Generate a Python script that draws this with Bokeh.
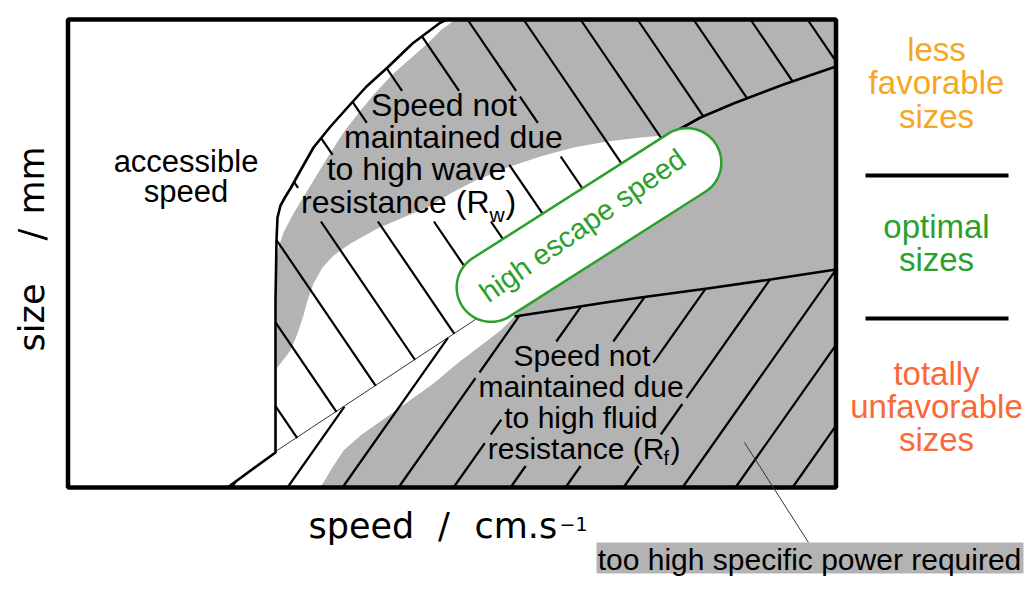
import numpy as np
from bokeh.plotting import figure
from bokeh.models import Range1d, ColumnDataSource
from bokeh.core.properties import value
from bokeh.embed import file_html
from bokeh.resources import INLINE

# ---------------- data (diagram coordinates: x right, y downward) ----------------
frame_left, frame_right, frame_top, frame_bottom = 67.5, 835.5, 19.0, 487.0

# black boundary of the "accessible speed" region (bottom -> top)
acc_x = [227, 275, 275, 275, 276, 277, 280, 285, 290, 300, 313, 330, 347, 366, 387, 412, 440, 447]
acc_y = [487, 452, 380, 300, 240, 217, 205, 196, 188, 170, 147, 126, 107, 86, 67, 43, 22, 19]

# thin boundary between the two hatched families
thin_x = [275, 487]
thin_y = [451, 311]

# upper black curve (wave resistance limit) and lower black curve (fluid resistance limit)
up_x = [660, 673, 700, 733, 783, 835.5]
up_y = [138, 132, 117, 103, 84, 66]
low_x = [514, 540, 573, 605, 640, 707, 770, 835.5]
low_y = [316, 312, 307, 302, 297, 288, 279, 269]

# grey band (wave resistance): outer edge (top -> bottom), inner edge (bottom -> top)
gout_x = [455, 440, 427, 410, 393, 376, 360, 343, 327, 310, 293, 283, 278, 276]
gout_y = [19, 30, 43, 58, 73, 91, 110, 132, 157, 185, 213, 232, 247, 262]
gin_x = [276, 280, 290, 297, 303, 307, 313, 322, 333, 350, 377, 405, 427, 450, 475, 507, 540, 573, 607, 640, 664]
gin_y = [368, 363, 350, 333, 315, 300, 283, 267, 255, 243, 228, 216, 207, 193, 180, 167, 156, 147, 141, 137, 135]
# lower grey region left edge (bottom -> top)
gl_x = [320, 330, 343, 360, 377, 405, 433, 458, 483, 500, 522]
gl_y = [487, 470, 450, 435, 423, 403, 383, 362, 343, 330, 308]

# "high escape speed" capsule
cap_cx, cap_cy, cap_half_len, cap_r, cap_angle = 588.5, 224.5, 116.0, 34.5, 32.5

# hatch families
back_top_x = [12, 69, 126, 183, 240, 296, 353, 410, 467, 523, 580, 637, 693, 750, 807]   # "\" lines, x at top edge
back_slope = 1.47
fwd_bottom_x = [231, 287, 342, 398, 453, 510, 565, 623, 682, 735, 792]                 # "/" lines, x at bottom edge
fwd_slope = -1.42

# texts (positions are baselines)
upper_lines = ["Speed not", "maintained due", "to high wave"]
upper_cx = [443.5, 453, 416]
upper_by = [116, 148, 180]
upper_last = ("resistance (R", "w", ")")
upper_last_x = [489, 489, 505]          # end of "(R", start of subscript, start of ")"
upper_last_by = 213

lower_lines = ["Speed not", "maintained due", "to high fluid"]
lower_cx = [581.5, 580.5, 580.5]
lower_by = [365, 396, 427]
lower_last = ("resistance (R", "f", ")")
lower_last_x = [664, 663, 670]
lower_last_by = 458

acc_lines = ["accessible", "speed"]
acc_cx = [185.5, 185.5]
acc_by = [172, 202]

right_lines = ["less", "favorable", "sizes", "optimal", "sizes", "totally", "unfavorable", "sizes"]
right_by = [60, 93, 127, 237, 270, 384, 417, 450]
right_col = ["#f5a623"] * 3 + ["#2ca02c"] * 2 + ["#fa6838"] * 3
right_cx = 936
sep_y = [175, 318]
sep_x = [865, 1008]

note_text = "too high specific power required"
note_box = (596, 1023, 542, 573)
note_cx, note_by = 809, 569
pointer_x = [744, 808]
pointer_y = [442, 542]

GREY = "#b3b3b3"
GREEN = "#2ca02c"
SANS = "Liberation Sans"
BASE_K = 0.347   # baseline -> anchor offset (fraction of font size)

# ---------------- helpers ----------------
AW = {'a': .556, 'b': .556, 'c': .5, 'd': .556, 'e': .556, 'f': .278, 'g': .556, 'h': .556, 'i': .222,
      'l': .222, 'm': .833, 'n': .556, 'o': .556, 'p': .556, 'q': .556, 'r': .333, 's': .5, 't': .278,
      'u': .556, 'v': .5, 'w': .722, 'y': .5, 'z': .5, ' ': .278, 'S': .667, 'R': .722, '(': .333, ')': .333}


def tw(s, fs):
    return sum(AW.get(c, .55) for c in s) * fs


def clip_line(p0, d, poly):
    ts = []
    n = len(poly)
    for i in range(n):
        a = poly[i]
        b = poly[(i + 1) % n]
        e = (b[0] - a[0], b[1] - a[1])
        den = d[0] * e[1] - d[1] * e[0]
        if abs(den) < 1e-12:
            continue
        w = (a[0] - p0[0], a[1] - p0[1])
        t = (w[0] * e[1] - w[1] * e[0]) / den
        s = (w[0] * d[1] - w[1] * d[0]) / den
        if 0 <= s < 1:
            ts.append(t)
    ts.sort()
    return [(ts[i], ts[i + 1]) for i in range(0, len(ts) - 1, 2)]


def subtract_rect(intervals, p0, d, r):
    x0, x1, y0, y1 = r
    tx = sorted(((x0 - p0[0]) / d[0], (x1 - p0[0]) / d[0]))
    ty = sorted(((y0 - p0[1]) / d[1], (y1 - p0[1]) / d[1]))
    tin, tout = max(tx[0], ty[0]), min(tx[1], ty[1])
    if tin >= tout:
        return intervals
    out = []
    for a, b in intervals:
        if tout <= a or tin >= b:
            out.append((a, b))
            continue
        if tin > a:
            out.append((a, tin))
        if tout < b:
            out.append((tout, b))
    return out


def hatch(points, d, poly, masks):
    xs, ys = [], []
    for p0 in points:
        iv = clip_line(p0, d, poly)
        for r in masks:
            iv = subtract_rect(iv, p0, d, r)
        for a, b in iv:
            if b - a > 0.3:
                xs.append([p0[0] + a * d[0], p0[0] + b * d[0]])
                ys.append([p0[1] + a * d[1], p0[1] + b * d[1]])
    return xs, ys


def capsule(cx, cy, L, r, ang, n=48):
    a = np.radians(ang)
    u = np.array([np.cos(a), -np.sin(a)])
    v = np.array([np.sin(a), np.cos(a)])
    c = np.array([cx, cy])
    pts = []
    for th in np.linspace(-np.pi / 2, np.pi / 2, n):
        pts.append(c + L * u + r * (np.cos(th) * u + np.sin(th) * v))
    for th in np.linspace(np.pi / 2, 3 * np.pi / 2, n):
        pts.append(c - L * u + r * (np.cos(th) * u + np.sin(th) * v))
    pts = np.array(pts)
    return list(pts[:, 0]), list(pts[:, 1])


def mask_box(x0, x1, by, fs):
    return (x0 - 3, x1 + 3, by - 0.80 * fs, by + 0.25 * fs)


# ---------------- figure ----------------
p = figure(width=1027, height=586, x_range=Range1d(0, 1027), y_range=Range1d(586, 0),
           output_backend="svg", toolbar_location=None, x_axis_type=None, y_axis_type=None,
           min_border=0, outline_line_color=None, background_fill_color="white",
           border_fill_color="white")
p.grid.visible = False

# base grey
p.quad(left=[frame_left], right=[frame_right], top=[frame_top], bottom=[frame_bottom],
       fill_color=GREY, line_color=None)

# white: accessible region + white strip
A_x = [frame_left, gout_x[0]] + gout_x + [276, 276, 227, frame_left]
A_y = [frame_top, frame_top] + gout_y + [262, 452, frame_bottom, frame_bottom]
p.patch(A_x, A_y, fill_color="white", line_color=None)

# white: tongue + white band
B_x = [276] + gin_x + [600] + gl_x[::-1] + [227, 275]
B_y = [452] + gin_y + [225] + gl_y[::-1] + [frame_bottom, 452]
p.patch(B_x, B_y, fill_color="white", line_color=None)

# text masks (hatching hidden behind text)
FS_UP, FS_LO, FS_SUB_UP, FS_SUB_LO = 32, 30, 21, 20
masks = []
for t, cx, by in zip(upper_lines, upper_cx, upper_by):
    w = tw(t, FS_UP)
    masks.append(mask_box(cx - w / 2, cx + w / 2, by, FS_UP))
for t, cx, by in zip(lower_lines, lower_cx, lower_by):
    w = tw(t, FS_LO)
    masks.append(mask_box(cx - w / 2, cx + w / 2, by, FS_LO))
masks.append(mask_box(upper_last_x[0] - tw(upper_last[0], FS_UP), upper_last_x[2] + tw(")", FS_UP),
                      upper_last_by, FS_UP))
masks.append(mask_box(lower_last_x[0] - tw(lower_last[0], FS_LO), lower_last_x[2] + tw(")", FS_LO),
                      lower_last_by, FS_LO))

# hatch polygons
W_poly = list(zip(acc_x[1:], acc_y[1:])) + [(frame_right, frame_top), (frame_right, up_y[-1])] + \
    list(zip(up_x[::-1], up_y[::-1])) + [(600, 220), (thin_x[1], thin_y[1])]
F_poly = [(227, frame_bottom), (275, 452), (thin_x[1], thin_y[1])] + list(zip(low_x, low_y)) + \
    [(frame_right, frame_bottom)]

bx, by_ = hatch([(x, frame_top) for x in back_top_x], (1.0, back_slope), W_poly, masks)
fx, fy = hatch([(x, frame_bottom) for x in fwd_bottom_x], (1.0, fwd_slope), F_poly, masks)
p.multi_line(bx, by_, line_color="black", line_width=2.2)
p.multi_line(fx, fy, line_color="black", line_width=2.2)

# boundaries
p.line(acc_x, acc_y, line_color="black", line_width=2.6, line_join="round")
p.line(up_x, up_y, line_color="black", line_width=2.6, line_join="round")
p.line(low_x, low_y, line_color="black", line_width=2.6, line_join="round")
p.line(thin_x, thin_y, line_color="black", line_width=0.8)

# capsule
cxs, cys = capsule(cap_cx, cap_cy, cap_half_len, cap_r, cap_angle)
p.patch(cxs, cys, fill_color="white", line_color=GREEN, line_width=2.5)
p.text(x=[582], y=[225], text=["high escape speed"], angle=np.radians(35), text_color=GREEN,
       text_font=value(SANS), text_font_size="29px", text_align="center", text_baseline="middle")

# frame
p.quad(left=[frame_left], right=[frame_right], top=[frame_top], bottom=[frame_bottom],
       fill_color=None, line_color="black", line_width=4.5)


def texts(xs, ys, ts, fs, color="black", align="center", font=SANS, angle=0.0):
    dx, dy = BASE_K * fs * np.sin(angle), BASE_K * fs * np.cos(angle)
    src = ColumnDataSource(dict(x=[x - dx for x in xs], y=[y - dy for y in ys], text=ts))
    p.text(x="x", y="y", text="text", source=src, text_color=color, text_font=value(font),
           text_font_size=f"{fs}px", text_align=align, text_baseline="alphabetic", angle=angle)


texts(upper_cx, upper_by, upper_lines, FS_UP)
texts([upper_last_x[0]], [upper_last_by], [upper_last[0]], FS_UP, align="right")
texts([upper_last_x[1]], [upper_last_by + 8], [upper_last[1]], FS_SUB_UP, align="left")
texts([upper_last_x[2]], [upper_last_by], [upper_last[2]], FS_UP, align="left")
texts(lower_cx, lower_by, lower_lines, FS_LO)
texts([lower_last_x[0]], [lower_last_by], [lower_last[0]], FS_LO, align="right")
texts([lower_last_x[1]], [lower_last_by + 6], [lower_last[1]], FS_SUB_LO, align="left")
texts([lower_last_x[2]], [lower_last_by], [lower_last[2]], FS_LO, align="left")
texts(acc_cx, acc_by, acc_lines, 31)

texts([right_cx] * 3, right_by[:3], right_lines[:3], 33, color=right_col[0])
texts([right_cx] * 2, right_by[3:5], right_lines[3:5], 33, color=right_col[3])
texts([right_cx] * 3, right_by[5:], right_lines[5:], 33, color=right_col[5])
p.multi_line([sep_x, sep_x], [[y, y] for y in sep_y], line_color="black", line_width=4)

# note box
p.line(pointer_x, pointer_y, line_color="#333333", line_width=1)
p.quad(left=[note_box[0]], right=[note_box[1]], top=[note_box[2]], bottom=[note_box[3]],
       fill_color=GREY, line_color=None)
texts([note_cx], [note_by], [note_text], 30)

# axis labels
DV = "DejaVu Sans"
texts([308], [538], ["speed"], 35, align="left", font=DV)
texts([443.5], [538], ["/"], 35, font=DV)
texts([474], [538], ["cm.s"], 35, align="left", font=DV)
texts([559], [530], ["\u22121"], 19, align="left", font=DV)
texts([43.5, 43.5, 43.5], [317, 234, 180], ["size", "/", "mm"], 35, font=DV, angle=np.pi / 2)

open("out.html", "w").write(file_html(p, INLINE))
